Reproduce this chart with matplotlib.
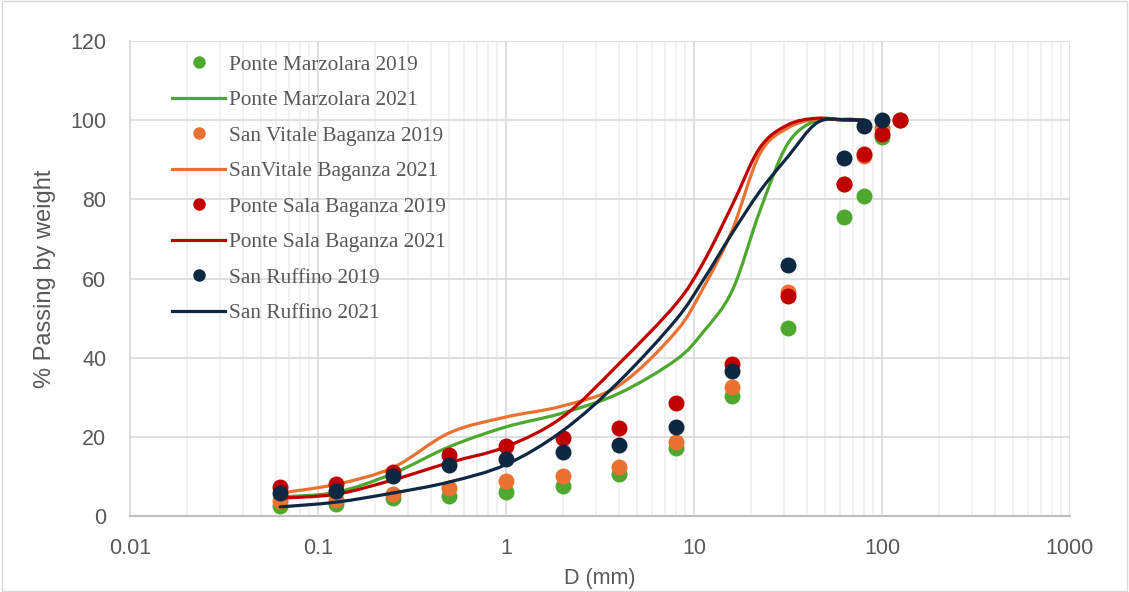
import numpy as np
import matplotlib
matplotlib.use("Agg")
import matplotlib.pyplot as plt
from matplotlib.path import Path
from matplotlib.patches import PathPatch, Rectangle
from matplotlib.lines import Line2D
from matplotlib.ticker import FixedLocator, LogLocator, FuncFormatter, NullFormatter

# sieve sizes (mm)
d_2019 = [0.063, 0.125, 0.25, 0.5, 1, 2, 4, 8, 16, 31.5, 63, 80, 100, 125]
d_2021 = [0.063, 0.125, 0.25, 0.5, 1, 2, 4, 8, 11.2, 16, 22.4, 31.5, 45, 63, 80]

# % passing, 2019 (points)
marzolara_2019 = [2.5, 3.0, 4.5, 5.0, 6.0, 7.6, 10.6, 17.2, 30.3, 47.5, 75.5, 80.8, 95.8, 100]
vitale_2019 = [3.9, 4.0, 5.5, 7.0, 8.8, 10.1, 12.4, 18.7, 32.6, 56.6, 84.0, 91.0, 98.0, 100]
sala_2019 = [7.3, 8.0, 11.0, 15.4, 17.7, 19.7, 22.2, 28.5, 38.4, 55.6, 84.0, 91.4, 96.5, 100]
ruffino_2019 = [5.8, 6.4, 10.0, 12.9, 14.4, 16.2, 17.9, 22.5, 36.6, 63.4, 90.4, 98.5, 100]

# % passing, 2021 (smoothed lines)
marzolara_2021 = [4.8, 6.0, 10.7, 17.5, 22.5, 26.0, 31.0, 39.4, 46.5, 57.0, 77.0, 94.0, 100, 100, 100]
vitale_2021 = [5.8, 8.0, 12.2, 21.0, 25.0, 27.8, 33.0, 46.5, 57.6, 72.3, 91.5, 98.0, 100.3, 100, 100]
sala_2021 = [4.5, 5.5, 9.1, 13.5, 17.5, 25.0, 38.5, 53.5, 64.0, 78.6, 93.0, 98.8, 100.5, 100, 100]
ruffino_2021 = [2.3, 3.5, 5.8, 8.6, 13.0, 21.5, 34.0, 49.5, 59.6, 71.5, 82.0, 90.7, 99.3, 100.2, 100]

GREEN = "#4EA72E"
ORANGE = "#E97132"
RED = "#C00000"
NAVY = "#0E2841"
TXT = "#595959"


def smooth_path(xs, ys):
    """Excel-like smoothed line: cubic bezier through the points, built in log-x space"""
    lx = np.log10(xs)
    y = np.asarray(ys, dtype=float)
    n = len(lx)
    verts = [(lx[0], y[0])]
    codes = [Path.MOVETO]
    for i in range(n - 1):
        i0 = max(i - 1, 0)
        i3 = min(i + 2, n - 1)
        c1 = (lx[i] + (lx[i + 1] - lx[i0]) / 6, y[i] + (y[i + 1] - y[i0]) / 6)
        c2 = (lx[i + 1] - (lx[i3] - lx[i]) / 6, y[i + 1] - (y[i3] - y[i]) / 6)
        verts += [c1, c2, (lx[i + 1], y[i + 1])]
        codes += [Path.CURVE4] * 3
    verts = np.array(verts)
    verts[:, 0] = 10 ** verts[:, 0]
    return Path(verts, codes)


fig = plt.figure(figsize=(11.29, 5.92), dpi=100)
ax = fig.add_axes([0.1151, 0.1284, 0.8326, 0.8023])
fig.patches.append(Rectangle((0.0015, 0.002), 0.997, 0.996, transform=fig.transFigure,
                             fill=False, edgecolor="#D9D9D9", lw=1))

series = [
    ("Ponte Marzolara 2019", "Ponte Marzolara 2021", d_2019, marzolara_2019, marzolara_2021, GREEN),
    ("San Vitale Baganza 2019", "SanVitale Baganza 2021", d_2019, vitale_2019, vitale_2021, ORANGE),
    ("Ponte Sala Baganza 2019", "Ponte Sala Baganza 2021", d_2019, sala_2019, sala_2021, RED),
    ("San Ruffino 2019", "San Ruffino 2021", d_2019[:len(ruffino_2019)], ruffino_2019, ruffino_2021, NAVY),
]

handles, labels = [], []
z = 3
for lab19, lab21, dx, v19, v21, col in series:
    ax.plot(dx, v19, "o", ms=11.5, color=col, mec="none", zorder=z)
    ax.add_patch(PathPatch(smooth_path(d_2021, v21), fill=False, edgecolor=col, lw=2.3,
                           capstyle="round", joinstyle="round", zorder=z + 1))
    z += 2
    handles.append(Line2D([], [], ls="none", marker="o", ms=9, color=col, mec="none"))
    handles.append(Line2D([], [], color=col, lw=2.3))
    labels += [lab19, lab21]

ax.set_xscale("log")
ax.set_xlim(0.01, 1000)
ax.set_ylim(0, 120)
ax.yaxis.set_major_locator(FixedLocator([0, 20, 40, 60, 80, 100, 120]))
ax.xaxis.set_major_locator(FixedLocator([0.01, 0.1, 1, 10, 100, 1000]))
ax.xaxis.set_minor_locator(LogLocator(base=10, subs=np.arange(2, 10)))
ax.xaxis.set_minor_formatter(NullFormatter())
ax.xaxis.set_major_formatter(FuncFormatter(lambda v, p: "%g" % v))

ax.grid(True, which="major", color="#D9D9D9", lw=1.2, zorder=0)
ax.grid(True, which="minor", axis="x", color="#EFEFEF", lw=1.2, zorder=0)
ax.set_axisbelow(True)
for s in ["top", "right"]:
    ax.spines[s].set_visible(False)
ax.spines["left"].set_color("#D9D9D9")
ax.spines["bottom"].set_color("#BFBFBF")
ax.spines["left"].set_linewidth(1.2)
ax.spines["bottom"].set_linewidth(1.5)
ax.tick_params(which="both", length=0, labelsize=15.5, labelcolor=TXT)
ax.tick_params(axis="y", pad=17)
ax.tick_params(axis="x", pad=16)
for t in ax.get_xticklabels() + ax.get_yticklabels():
    t.set_family("Liberation Sans")

ax.set_xlabel("D (mm)", fontsize=15.5, color=TXT, family="Liberation Sans", labelpad=6)
ax.set_ylabel("% Passing by weight", fontsize=17, color=TXT, family="Liberation Sans", labelpad=10)

leg = ax.legend(handles, labels, loc="upper left", bbox_to_anchor=(0.0447, 0.971),
                frameon=False, prop={"family": "Liberation Serif", "size": 15.3},
                labelcolor=TXT, handlelength=2.5, handletextpad=0.2,
                labelspacing=0.735, borderpad=0, borderaxespad=0)

fig.savefig("out.png", dpi=100)
